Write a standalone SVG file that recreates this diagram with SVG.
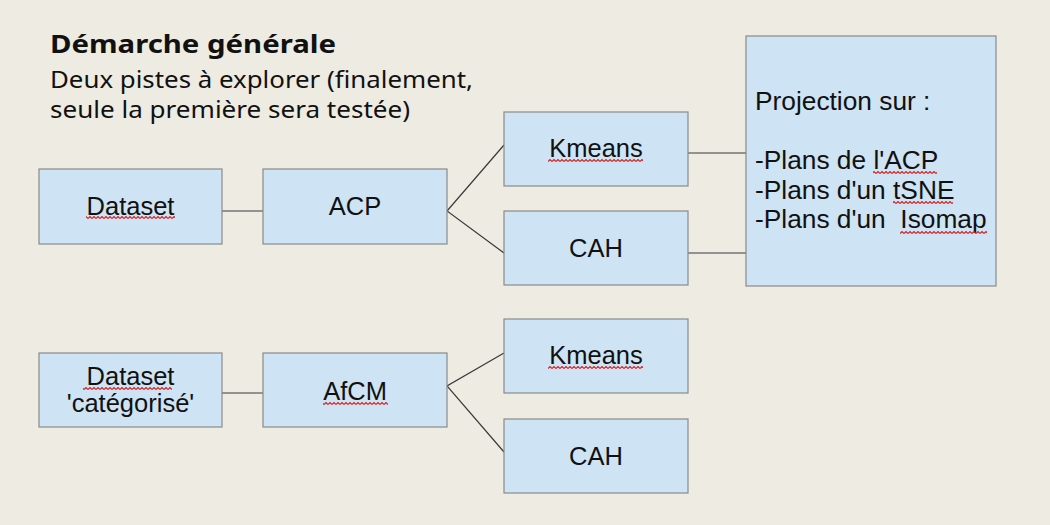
<svg xmlns="http://www.w3.org/2000/svg" width="1050" height="525" viewBox="0 0 1050 525">
<defs>
<style>
.box{fill:#CEE3F3;stroke:#8A8A8A;stroke-width:1.2}
.lbl{font-family:"Liberation Sans",Arial,sans-serif;font-size:25.5px;fill:#111;text-anchor:middle}
.proj{font-family:"Liberation Sans",Arial,sans-serif;font-size:26.3px;fill:#111}
.head{font-family:"Noto Sans",sans-serif;fill:#111}
.con{stroke:#3A3A3A;stroke-width:1.2;fill:none}
</style>
<pattern id="sq" x="0" y="0" width="4" height="3" patternUnits="userSpaceOnUse">
<path d="M0,2.5 L2,0.5 L4,2.5" fill="none" stroke="#D92020" stroke-width="1.1"/>
</pattern>
</defs>
<rect width="1050" height="525" fill="#EEEBE2"/>
<g id="title">
<text class="head" x="50" y="53" font-size="25px" font-weight="bold" textLength="286" lengthAdjust="spacingAndGlyphs">Démarche générale</text>
<text class="head" x="50" y="87.5" font-size="23.5px" textLength="423" lengthAdjust="spacingAndGlyphs">Deux pistes à explorer (finalement,</text>
<text class="head" x="50" y="118" font-size="23.5px" textLength="360" lengthAdjust="spacingAndGlyphs">seule la première sera testée)</text>
</g>
<g id="connectors">
<line class="con" x1="222" y1="211" x2="263" y2="211"/>
<polyline class="con" points="504,145 447,211 504,253"/>
<line class="con" x1="688" y1="153" x2="746" y2="153"/>
<line class="con" x1="688" y1="253" x2="746" y2="253"/>
<line class="con" x1="222" y1="393" x2="263" y2="393"/>
<polyline class="con" points="504,353 447,386 504,452"/>
</g>
<g id="dataset">
<rect class="box" x="39" y="169" width="183" height="75"/>
<text class="lbl" x="130.5" y="215">Dataset</text>
<rect x="86" y="216" width="89" height="3" fill="url(#sq)"/>
</g>
<g id="acp">
<rect class="box" x="263" y="169" width="184" height="75"/>
<text class="lbl" x="355" y="215">ACP</text>
</g>
<g id="kmeans1">
<rect class="box" x="504" y="112" width="184" height="74"/>
<text class="lbl" x="596" y="157">Kmeans</text>
<rect x="548" y="159" width="95" height="3" fill="url(#sq)"/>
</g>
<g id="cah1">
<rect class="box" x="504" y="211" width="184" height="74"/>
<text class="lbl" x="596" y="257">CAH</text>
</g>
<g id="projection">
<rect class="box" x="746" y="36" width="250" height="250"/>
<text class="proj" x="755" y="110">Projection sur :</text>
<text class="proj" x="755" y="169">-Plans de l'ACP</text>
<text class="proj" x="755" y="199">-Plans d'un tSNE</text>
<text class="proj" x="755" y="228" xml:space="preserve">-Plans d'un  Isomap</text>
<rect x="873" y="171" width="64" height="3" fill="url(#sq)"/>
<rect x="893" y="201" width="60" height="3" fill="url(#sq)"/>
<rect x="900" y="231" width="87" height="3" fill="url(#sq)"/>
</g>
<g id="dataset-cat">
<rect class="box" x="39" y="353" width="183" height="74"/>
<text class="lbl" x="130.5" y="385">Dataset</text>
<text class="lbl" x="130.5" y="412">'catégorisé'</text>
<rect x="83" y="387" width="89" height="3" fill="url(#sq)"/>
</g>
<g id="afcm">
<rect class="box" x="263" y="353" width="184" height="74"/>
<text class="lbl" x="355" y="400">AfCM</text>
<rect x="323" y="402" width="65" height="3" fill="url(#sq)"/>
</g>
<g id="kmeans2">
<rect class="box" x="504" y="319" width="184" height="74"/>
<text class="lbl" x="596" y="364">Kmeans</text>
<rect x="548" y="366" width="95" height="3" fill="url(#sq)"/>
</g>
<g id="cah2">
<rect class="box" x="504" y="419" width="184" height="74"/>
<text class="lbl" x="596" y="465">CAH</text>
</g>
</svg>
